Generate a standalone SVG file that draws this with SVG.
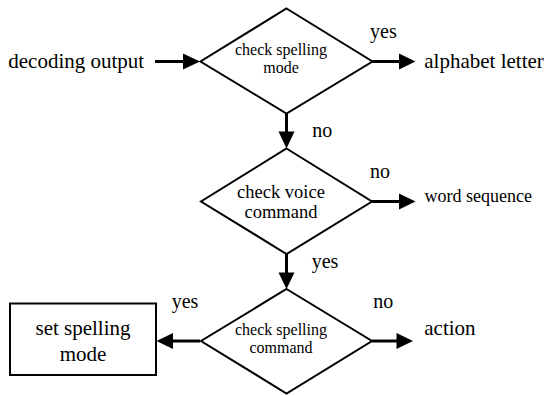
<svg xmlns="http://www.w3.org/2000/svg" width="546" height="396" viewBox="0 0 546 396">
<style>
text{font-family:"Liberation Serif","Times New Roman",serif;fill:#000}
.big{font-size:21px}
.lbl{font-size:20px}
.mid{font-size:18px}
.small{font-size:16px}
.d{fill:#fff;stroke:#000;stroke-width:2;stroke-linejoin:miter}
.c{stroke:#000;stroke-width:3;fill:none}
.ah{fill:#000}
</style>
<rect width="546" height="396" fill="#fff"/>
<g id="connectors">
<line class="c" x1="155" y1="61.5" x2="186" y2="61.5"/>
<polygon class="ah" points="200,61.5 183,53.5 183,69.5"/>
<line class="c" x1="372.5" y1="61.5" x2="402" y2="61.5"/>
<polygon class="ah" points="415.5,61.5 399,53.5 399,69.5"/>
<line class="c" x1="286.5" y1="113.5" x2="286.5" y2="134"/>
<polygon class="ah" points="286.5,148.5 278.5,131.5 294.5,131.5"/>
<line class="c" x1="372" y1="201.5" x2="402" y2="201.5"/>
<polygon class="ah" points="415.5,201.5 399,193.5 399,209.5"/>
<line class="c" x1="286.5" y1="254" x2="286.5" y2="274"/>
<polygon class="ah" points="286.5,289 278.5,272.5 294.5,272.5"/>
<line class="c" x1="372" y1="341" x2="400" y2="341"/>
<polygon class="ah" points="413,341 396.5,333 396.5,349"/>
<line class="c" x1="200" y1="341" x2="170" y2="341"/>
<polygon class="ah" points="156.5,341 173,333 173,349"/>
<text class="lbl" x="370" y="38.3">yes</text>
<text class="lbl" x="312.3" y="136.7">no</text>
<text class="lbl" x="370" y="178.3">no</text>
<text class="lbl" x="311.7" y="268.3">yes</text>
<text class="lbl" x="171.7" y="308.3">yes</text>
<text class="lbl" x="373.3" y="308.3">no</text>
</g>
<g id="input">
<text class="big" x="8.3" y="68.3">decoding output</text>
</g>
<g id="check-spelling-mode">
<polygon class="d" points="286.5,8.5 372.5,61.5 286.5,113.5 200.5,61.5"/>
<text class="small" x="281" y="55" text-anchor="middle">check spelling</text>
<text class="small" x="281" y="72.7" text-anchor="middle">mode</text>
</g>
<g id="alphabet-letter">
<text class="big" x="424.3" y="68.3">alphabet letter</text>
</g>
<g id="check-voice-command">
<polygon class="d" points="286.5,148.5 372,201.5 286.5,254 201,201.5"/>
<text class="mid" x="281" y="198.3" text-anchor="middle" style="font-size:18.5px">check voice</text>
<text class="mid" x="281" y="218.3" text-anchor="middle" style="font-size:18.5px">command</text>
</g>
<g id="word-sequence">
<text class="mid" x="424.5" y="202.3">word sequence</text>
</g>
<g id="check-spelling-command">
<polygon class="d" points="286.5,289 372,341 286.5,393.5 201,341"/>
<text class="small" x="281" y="335" text-anchor="middle">check spelling</text>
<text class="small" x="281" y="353" text-anchor="middle">command</text>
</g>
<g id="action">
<text class="big" x="424.3" y="335">action</text>
</g>
<g id="set-spelling-mode">
<rect x="10" y="303.5" width="146" height="71.5" fill="#fff" stroke="#000" stroke-width="2"/>
<text class="big" x="83" y="335" text-anchor="middle">set spelling</text>
<text class="big" x="83" y="361" text-anchor="middle">mode</text>
</g>
</svg>
